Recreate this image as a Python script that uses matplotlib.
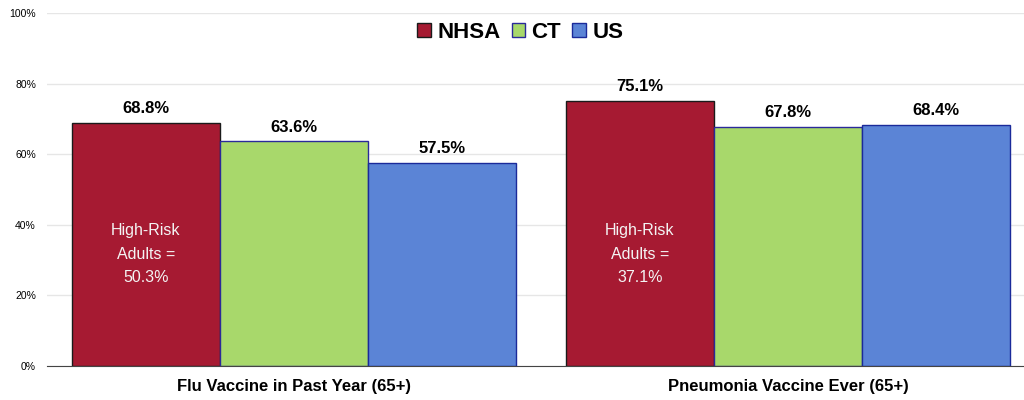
import matplotlib.pyplot as plt
import numpy as np

plt.rcParams['font.family'] = ['Liberation Sans', 'DejaVu Sans']

categories = ['Flu Vaccine in Past Year (65+)', 'Pneumonia Vaccine Ever (65+)']
series = ['NHSA', 'CT', 'US']
values = {
    'NHSA': [68.8, 75.1],
    'CT': [63.6, 67.8],
    'US': [57.5, 68.4],
}
high_risk = [50.3, 37.1]

colors = {'NHSA': '#A61A32', 'CT': '#A8D86B', 'US': '#5B84D6'}
edges = {'NHSA': '#1a1a1a', 'CT': '#2a2a9a', 'US': '#1a2a9a'}

fig = plt.figure(figsize=(10.24, 4.0), dpi=100)
ax = fig.add_axes([47 / 1024, 34 / 400, 988 / 1024, 353 / 400])

x = np.arange(len(categories))
w = 0.3
for i, s in enumerate(series):
    pos = x + (i - 1) * w
    bars = ax.bar(pos, values[s], w, color=colors[s], edgecolor=edges[s],
                  linewidth=1.0, label=s, zorder=3)
    for b, v in zip(bars, values[s]):
        ax.annotate(f'{v:.1f}%', (b.get_x() + b.get_width() / 2, v),
                    xytext=(0, 5), textcoords='offset points',
                    ha='center', va='bottom', fontsize=12, fontweight='bold')

# note inside the NHSA bars
for xi, hr in zip(x - w, high_risk):
    ax.text(xi, 31.7, f'High-Risk\nAdults =\n{hr:.1f}%', ha='center', va='center',
            color='#f4f4f4', fontsize=11.5, linespacing=1.7, zorder=4)

ax.set_xlim(-0.5, 1.5)
ax.set_ylim(0, 100)
ax.set_yticks(np.arange(0, 101, 20))
ax.set_yticklabels([f'{t}%' for t in range(0, 101, 20)], fontsize=7.5)
ax.set_xticks(x)
ax.set_xticklabels(categories, fontsize=12, fontweight='bold')
ax.tick_params(axis='both', length=0)
ax.tick_params(axis='x', pad=9)
ax.tick_params(axis='y', pad=8)
ax.grid(axis='y', color='#e6e6e6', linewidth=1.0, zorder=0)
for sp in ['left', 'right', 'top']:
    ax.spines[sp].set_visible(False)
ax.spines['bottom'].set_color('#444444')
ax.spines['bottom'].set_zorder(5)

leg = ax.legend(loc='upper center', bbox_to_anchor=(0.479, 1.0), ncol=3, frameon=False,
                prop={'size': 16, 'weight': 'bold'}, handlelength=0.6, handleheight=0.6,
                handletextpad=0.3, columnspacing=0.5, borderaxespad=0.0)

fig.savefig('out.png', dpi=100)
